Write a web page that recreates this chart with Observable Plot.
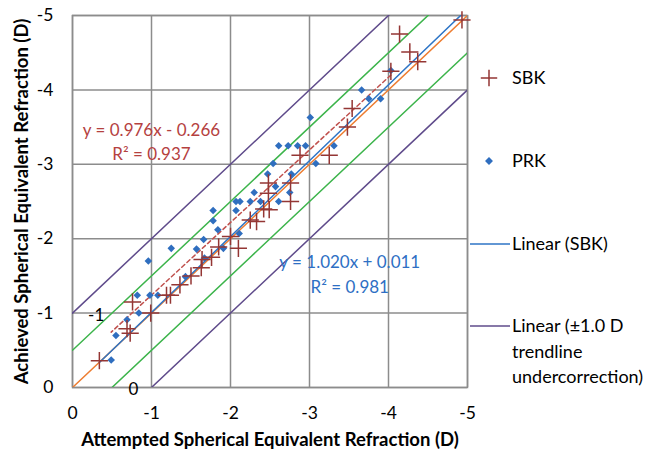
<!DOCTYPE html>
<html>
<head>
<meta charset="utf-8">
<script src="https://cdn.jsdelivr.net/npm/d3@7"></script>
<script src="https://cdn.jsdelivr.net/npm/@observablehq/plot@0.6"></script>
<style>
  html, body { margin: 0; padding: 0; background: #fff; }
  #wrap { position: relative; width: 648px; height: 455px; font-family: Lato, "Open Sans", sans-serif; }
  #legend { position: absolute; left: 0; top: 0; pointer-events: none; }
</style>
</head>
<body>
<div id="wrap"></div>
<script>
// ---- Data ----
const sbkX = [-0.34,-0.69,-0.73,-0.76,-0.99,-1.19,-1.24,-1.36,-1.50,-1.63,-1.64,-1.76,-1.85,-2.00,-2.10,-2.25,-2.33,-2.42,-2.49,-2.48,-2.48,-2.76,-2.76,-2.88,-3.25,-3.48,-3.54,-4.03,-4.14,-4.27,-4.37,-4.93];
const sbkY = [-0.36,-0.79,-0.73,-1.15,-1.00,-1.24,-1.24,-1.38,-1.50,-1.61,-1.72,-1.75,-1.89,-2.03,-1.87,-2.25,-2.23,-2.40,-2.39,-2.61,-2.75,-2.50,-2.75,-3.12,-3.12,-3.50,-3.75,-4.25,-4.75,-4.51,-4.38,-4.94];
const prkX = [-0.49,-0.55,-0.69,-0.84,-0.82,-0.98,-1.08,-0.96,-1.25,-1.43,-1.57,-1.66,-1.67,-1.78,-1.78,-1.84,-1.91,-2.07,-2.07,-2.12,-2.11,-2.25,-2.30,-2.38,-2.57,-2.61,-2.75,-2.47,-2.54,-2.77,-2.61,-2.73,-2.85,-2.95,-3.01,-3.08,-3.31,-3.66,-3.75,-3.90,-4.03];
const prkY = [-0.37,-0.70,-0.91,-1.00,-1.24,-1.24,-1.24,-1.70,-1.87,-1.49,-1.86,-1.99,-1.74,-2.38,-2.24,-2.12,-1.87,-2.38,-2.50,-2.50,-2.07,-2.50,-2.62,-2.50,-2.70,-2.50,-2.62,-2.87,-3.01,-2.87,-3.25,-3.25,-3.25,-3.25,-3.63,-3.01,-3.25,-4.00,-3.88,-3.88,-4.26];
const sbkFit = {slope: 1.020, intercept: 0.011, r2: 0.981};
const prkFit = {slope: 0.976, intercept: -0.266, r2: 0.937};
const bandOffsets = [-0.5, 0.5];          // ±0.5 D
const undercorrOffsets = [-1.0, 1.0];     // ±1.0 D
const axisTicks = [0, -1, -2, -3, -4, -5];
const legendLabels = ["SBK", "PRK", "Linear (SBK)", "Linear (±1.0 D trendline undercorrection)"];

// ---- Derived tables ----
const sbk = sbkX.map((x, i) => ({x, y: sbkY[i]}));
const prk = prkX.map((x, i) => ({x, y: prkY[i]}));
const domainX = [axisTicks[0], axisTicks[axisTicks.length - 1]];
const offsetLines = offs => offs.flatMap((o, k) => domainX.map(x => ({x, y: x + o, k})));
const fitLine = (fit, pts) => d3.extent(pts, d => d.x).map(x => ({x, y: fit.slope * x + fit.intercept}));
const fmt = d => String(d);
const eq = f => `y = ${f.slope.toFixed(3)}x ${f.intercept < 0 ? "-" : "+"} ${Math.abs(f.intercept).toFixed(3)}`;

const FONT = "Lato, 'Open Sans', sans-serif";
const grid = "#8c8c8c";

const chart = Plot.plot({
  width: 648,
  height: 455,
  marginLeft: 72,
  marginRight: 181,
  marginTop: 15,
  marginBottom: 68,
  style: {fontFamily: FONT, fontSize: "17px", color: "#000", background: "#fff"},
  x: {domain: domainX, ticks: axisTicks, tickFormat: fmt},
  y: {domain: domainX, ticks: axisTicks, tickFormat: fmt},
  marks: [
    Plot.gridX(axisTicks, {stroke: grid, strokeOpacity: 1, strokeWidth: 1.5}),
    Plot.gridY(axisTicks, {stroke: grid, strokeOpacity: 1, strokeWidth: 1.5}),
    Plot.frame({stroke: grid, strokeWidth: 1.5}),
    Plot.axisX({ticks: axisTicks, tickFormat: fmt, tickSize: 0, tickPadding: 19, fontSize: 17.5,
      label: "Attempted Spherical Equivalent Refraction (D)", labelAnchor: "center", labelArrow: "none", labelOffset: 58}),
    Plot.axisY({ticks: axisTicks, tickFormat: fmt, tickSize: 0, tickPadding: 19, fontSize: 17.5,
      label: "Achieved Spherical Equivalent Refraction (D)", labelAnchor: "center", labelArrow: "none", labelOffset: 58}),
    Plot.line(offsetLines(undercorrOffsets), {x: "x", y: "y", z: "k", stroke: "#5f4b8b", strokeWidth: 1.5, clip: true}),
    Plot.line(offsetLines(bandOffsets), {x: "x", y: "y", z: "k", stroke: "#3cb44b", strokeWidth: 1.5, clip: true}),
    Plot.line(offsetLines([0]), {x: "x", y: "y", stroke: "#ed7d31", strokeWidth: 1.5, clip: true}),
    Plot.line(fitLine(sbkFit, sbk), {x: "x", y: "y", stroke: "#2e75c6", strokeWidth: 1.5, clip: true}),
    Plot.line(fitLine(prkFit, prk), {x: "x", y: "y", stroke: "#c0504d", strokeWidth: 1.5, strokeDasharray: "4,3", clip: true}),
    Plot.dot(prk, {x: "x", y: "y", symbol: d3.symbolDiamond2, r: 3.4, fill: "#2f6ebf", stroke: "none"}),
    Plot.dot(sbk, {x: "x", y: "y", symbol: "plus", r: 5.6, stroke: "#943634", strokeWidth: 1.5, fill: "none"}),
    Plot.text([eq(prkFit)], {x: -1.0, y: -3.45, fill: "#b5413f", fontSize: 17, text: d => d}),
    Plot.text([`R² = ${prkFit.r2}`], {x: -1.0, y: -3.13, fill: "#b5413f", fontSize: 17, text: d => d}),
    Plot.text([eq(sbkFit)], {x: -3.51, y: -1.68, fill: "#2e6fc4", fontSize: 17, text: d => d}),
    Plot.text([`R² = ${sbkFit.r2}`], {x: -3.51, y: -1.35, fill: "#2e6fc4", fontSize: 17, text: d => d}),
    Plot.text(["-1"], {x: -0.30, y: -0.97, fill: "#000", fontSize: 17, text: d => d}),
    Plot.text(["0"], {x: -0.77, y: 0.0, fill: "#000", fontSize: 17, dy: 2, text: d => d})
  ]
});
chart.querySelectorAll("g[aria-label='x-axis label'] text, g[aria-label='y-axis label'] text").forEach(t => {
  t.setAttribute("font-weight", "bold"); t.setAttribute("font-size", "18.5");
});
const wrap = document.getElementById("wrap");
wrap.appendChild(chart);

// ---- Legend (overlay in right margin) ----
const lg = d3.select(wrap).append("svg").attr("id", "legend").attr("width", 648).attr("height", 455)
  .style("font-family", FONT).style("font-size", "18px");
const lx = 512;
const sym = d3.symbol();
lg.append("path").attr("d", sym.type(d3.symbolPlus).size(90)()).attr("transform", "translate(489,78)")
  .attr("stroke", "#943634").attr("stroke-width", 1.5).attr("fill", "none");
lg.append("text").attr("x", lx).attr("y", 78).attr("dy", "0.35em").text(legendLabels[0]);
lg.append("path").attr("d", sym.type(d3.symbolDiamond2).size(40)()).attr("transform", "translate(489,161)")
  .attr("fill", "#2f6ebf");
lg.append("text").attr("x", lx).attr("y", 161).attr("dy", "0.35em").text(legendLabels[1]);
lg.append("line").attr("x1", 470).attr("x2", 510).attr("y1", 244).attr("y2", 244).attr("stroke", "#2e75c6").attr("stroke-width", 1.5);
lg.append("text").attr("x", lx).attr("y", 244).attr("dy", "0.35em").text(legendLabels[2]);
lg.append("line").attr("x1", 470).attr("x2", 510).attr("y1", 326).attr("y2", 326).attr("stroke", "#5f4b8b").attr("stroke-width", 1.5);
const lines4 = ["Linear (±1.0 D", "trendline", "undercorrection)"];
lines4.forEach((s, i) => lg.append("text").attr("x", lx).attr("y", 326 + i * 25.5).attr("dy", "0.35em").text(s));
</script>
</body>
</html>
